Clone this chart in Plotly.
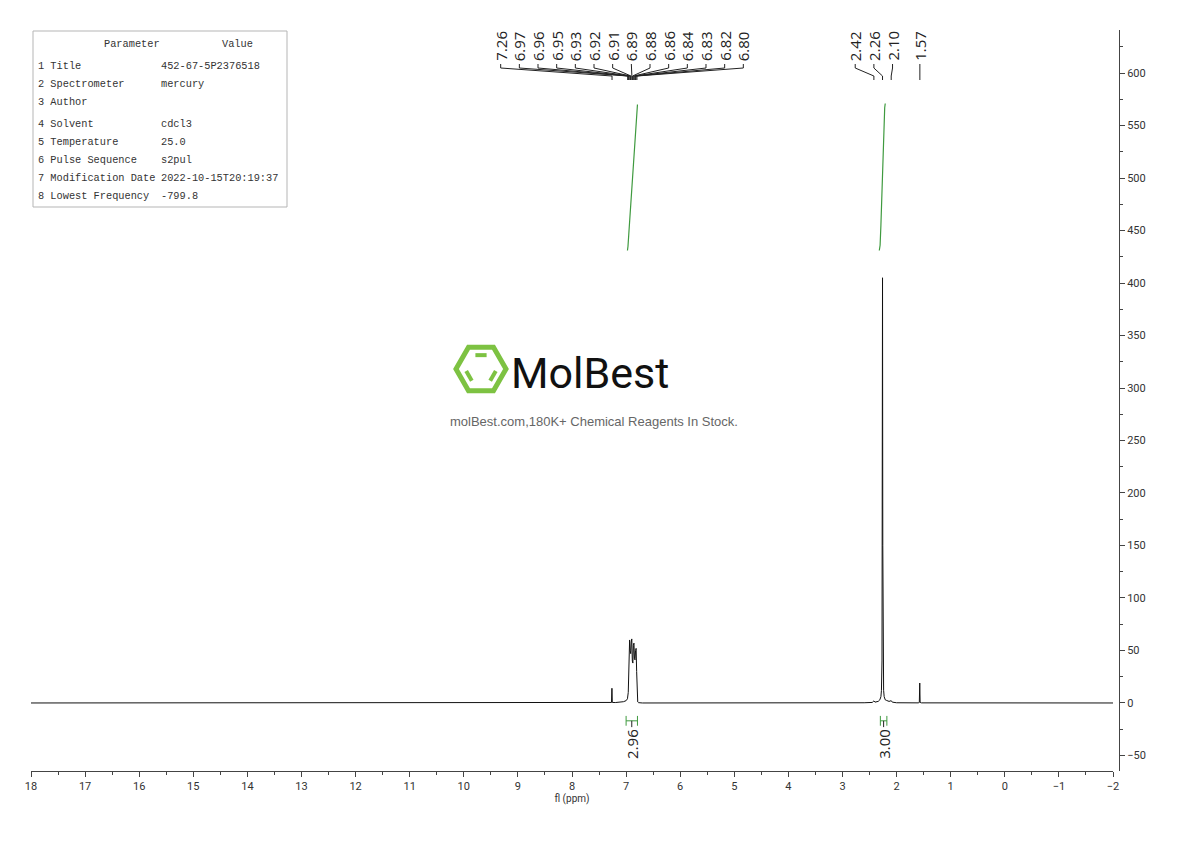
import math

import plotly.graph_objects as go

# Spectrum trace (ppm, intensity)
spec_ppm = [
    18.0, 7.40, 7.30, 7.27, 7.262, 7.255, 7.20, 7.10, 7.05, 7.00, 6.975, 6.96,
    6.945, 6.935, 6.925, 6.915, 6.905, 6.895, 6.885, 6.875, 6.865, 6.855,
    6.845, 6.835, 6.825, 6.815, 6.805, 6.795, 6.785, 6.77, 6.70,
    2.60, 2.45, 2.42, 2.40, 2.34, 2.31, 2.29, 2.28, 2.27, 2.265, 2.26, 2.255,
    2.25, 2.24, 2.23, 2.21, 2.19, 2.17, 2.14, 2.12, 2.10, 2.08, 2.00,
    1.60, 1.58, 1.572, 1.565, 1.54, -2.0,
]
spec_int = [
    0.0, 0.2, 0.3, 0.5, 14.0, 0.5, 0.4, 0.8, 1.2, 2.2, 4.0, 10.0,
    35.0, 60.0, 50.0, 47.0, 58.0, 61.0, 40.0, 38.0, 55.0, 57.0,
    42.0, 41.0, 50.0, 52.0, 30.0, 6.0, 1.0, 0.3, 0.0,
    0.2, 0.5, 2.0, 0.8, 1.5, 3.0, 6.0, 12.0, 40.0, 150.0, 405.0, 150.0,
    40.0, 12.0, 6.0, 3.0, 2.5, 2.0, 1.5, 1.8, 2.2, 0.8, 0.2,
    0.1, 0.5, 19.0, 0.5, 0.1, 0.0,
]

# Integral curves
int1_ppm = [6.975, 6.965, 6.95, 6.92, 6.89, 6.86, 6.83, 6.81, 6.80, 6.79]
int1_val = [431, 435, 447, 472, 497, 522, 546, 560, 566, 570]
int2_ppm = [2.32, 2.305, 2.29, 2.27, 2.25, 2.23, 2.22, 2.21]
int2_val = [431, 436, 455, 490, 528, 558, 567, 571]

# Integration regions (from, to, value)
int_from = [7.00, 2.30]
int_to = [6.79, 2.18]
int_labels = ["2.96", "3.00"]

# Peak picking labels
peak_ppm = [7.26, 6.97, 6.96, 6.95, 6.93, 6.92, 6.91, 6.89, 6.88, 6.86, 6.84,
            6.83, 6.82, 6.80, 2.42, 2.26, 2.10, 1.57]

# Parameter table
param_names = ["1 Title", "2 Spectrometer", "3 Author", "4 Solvent",
               "5 Temperature", "6 Pulse Sequence", "7 Modification Date",
               "8 Lowest Frequency"]
param_values = ["452-67-5P2376518", "mercury", "", "cdcl3", "25.0", "s2pul",
                "2022-10-15T20:19:37", "-799.8"]

GREEN = "#3f9a3f"
AXIS = "#444444"
TICKFONT = "Roboto, sans-serif"

# plot area in page pixels: left 31, right 1119, top 30, bottom 771
# (the page body adds an 8px offset to the figure)
L, R, T, B = 31, 1119, 30, 771
OFF = 8
FIG_W, FIG_H = 1180, 825


def px_x(px):
    return (px - L) / (R - L)


def px_y(py):
    return (B - py) / (B - T)


def label_positions(peaks, gap=0.345, join=0.5, shift=0.16):
    # spread the labels of close peaks evenly above them
    groups, cur = [], [peaks[0]]
    for p in peaks[1:]:
        if cur[-1] - p < join:
            cur.append(p)
        else:
            groups.append(cur)
            cur = [p]
    groups.append(cur)
    out = []
    for g in groups:
        mid = sum(g) / len(g) + (shift if len(g) > 1 else 0)
        n = len(g)
        out += [mid + ((n - 1) / 2 - i) * gap for i in range(n)]
    return out


fig = go.Figure()

fig.add_trace(go.Scatter(x=spec_ppm, y=spec_int, mode="lines",
                         line=dict(color="#111111", width=1), hoverinfo="skip"))

for xs, ys in [(int1_ppm, int1_val), (int2_ppm, int2_val)]:
    fig.add_trace(go.Scatter(x=xs, y=ys, mode="lines",
                             line=dict(color=GREEN, width=1.2), hoverinfo="skip"))

# integration brackets + labels
annotations = []
for a, b, lab in zip(int_from, int_to, int_labels):
    fig.add_trace(go.Scatter(
        x=[a, b], y=[-17, -17], mode="lines+markers",
        line=dict(color=GREEN, width=1),
        marker=dict(symbol="line-ns-open", size=7, color=GREEN,
                    line=dict(color=GREEN, width=1)),
        hoverinfo="skip"))
    mid = (a + b) / 2
    fig.add_trace(go.Scatter(x=[mid, mid], y=[-17, -23], mode="lines",
                             line=dict(color="#222222", width=1), hoverinfo="skip"))
    annotations.append(dict(x=mid, y=-23, xref="x", yref="y", text=lab,
                            textangle=-90, showarrow=False, yanchor="top",
                            xanchor="center",
                            font=dict(family="Open Sans", size=15, color="#222222")))

# peak labels and their connectors (y in paper units on overlay axis)
lab_x = label_positions(peak_ppm)
cx, cy = [], []
for p, lx in zip(peak_ppm, lab_x):
    cx += [lx, lx, p, p, None]
    cy += [px_y(64), px_y(68), px_y(76), px_y(80), None]
    annotations.append(dict(x=lx, y=px_y(63), xref="x", yref="paper",
                            text=f"{p:.2f}", textangle=-90, showarrow=False,
                            yanchor="bottom", xanchor="center",
                            font=dict(family="Open Sans", size=15, color="#222222")))
fig.add_trace(go.Scatter(x=cx, y=cy, yaxis="y2", mode="lines",
                         line=dict(color="#222222", width=1), hoverinfo="skip"))

# parameter table (text nudged up: the mono font sits low in its box)
shapes = [dict(type="rect", xref="paper", yref="paper",
               x0=px_x(33), x1=px_x(287), y0=px_y(207), y1=px_y(31),
               line=dict(color="#b5b5b5", width=1))]
tfont = dict(family="Liberation Mono", size=10.3, color="#333333")
NUDGE = 7
annotations.append(dict(x=px_x(102), y=px_y(43 - NUDGE), xref="paper", yref="paper",
                        text="Parameter", showarrow=False, font=tfont))
annotations.append(dict(x=px_x(220), y=px_y(43 - NUDGE), xref="paper", yref="paper",
                        text="Value", showarrow=False, font=tfont))
row_y = [65, 83, 101, 123, 141, 159, 177, 195]
for ry, name, val in zip(row_y, param_names, param_values):
    annotations.append(dict(x=px_x(36), y=px_y(ry - NUDGE), xref="paper", yref="paper",
                            text=name, showarrow=False, xanchor="left", font=tfont))
    if val:
        annotations.append(dict(x=px_x(159), y=px_y(ry - NUDGE), xref="paper",
                                yref="paper", text=val, showarrow=False,
                                xanchor="left", font=tfont))

# MolBest watermark
hx, hy, hr = 481, 369, 25
verts = [(hx + hr * math.cos(math.radians(a)), hy + hr * math.sin(math.radians(a)))
         for a in range(0, 360, 60)]
path = "M " + " L ".join(f"{px_x(x):.5f},{px_y(y):.5f}" for x, y in verts) + " Z"
shapes.append(dict(type="path", xref="paper", yref="paper", path=path,
                   line=dict(color="#7dc242", width=5)))
ir = hr * 0.64
for a0, a1 in [(240, 300), (120, 180), (0, 60)]:
    p0 = (hx + ir * math.cos(math.radians(a0)), hy + ir * math.sin(math.radians(a0)))
    p1 = (hx + ir * math.cos(math.radians(a1)), hy + ir * math.sin(math.radians(a1)))
    q0 = (p0[0] + (p1[0] - p0[0]) * 0.15, p0[1] + (p1[1] - p0[1]) * 0.15)
    q1 = (p0[0] + (p1[0] - p0[0]) * 0.85, p0[1] + (p1[1] - p0[1]) * 0.85)
    shapes.append(dict(type="line", xref="paper", yref="paper",
                       x0=px_x(q0[0]), y0=px_y(q0[1]), x1=px_x(q1[0]), y1=px_y(q1[1]),
                       line=dict(color="#7dc242", width=4)))
annotations.append(dict(x=px_x(509), y=px_y(373), xref="paper", yref="paper",
                        text="MolBest", showarrow=False, xanchor="left",
                        font=dict(family="Roboto", size=43, color="#111111")))
annotations.append(dict(x=px_x(594), y=px_y(421), xref="paper", yref="paper",
                        text="molBest.com,180K+ Chemical Reagents In Stock.",
                        showarrow=False,
                        font=dict(family="Liberation Sans", size=13, color="#666666")))

fig.update_layout(
    width=FIG_W, height=FIG_H,
    margin=dict(l=L - OFF, r=FIG_W - (R - OFF), t=T - OFF, b=FIG_H - (B - OFF), pad=0),
    paper_bgcolor="white", plot_bgcolor="white",
    showlegend=False,
    xaxis=dict(range=[18, -2], domain=[0, (1113 - L) / (R - L)],
               tick0=0, dtick=1, ticks="outside", ticklen=5, tickwidth=1,
               tickcolor=AXIS, showline=True, linecolor=AXIS, linewidth=1,
               showgrid=False, zeroline=False,
               minor=dict(dtick=0.5, ticks="outside", ticklen=3, tickcolor=AXIS),
               tickfont=dict(family=TICKFONT, size=11, color="#333333"),
               title=dict(text="fl (ppm)", standoff=2,
                          font=dict(family=TICKFONT, size=10, color="#333333"))),
    yaxis=dict(range=[-64.8, 641], side="right", anchor="free", position=1,
               tick0=0, dtick=50, ticks="outside", ticklen=5, tickcolor=AXIS,
               showline=True, linecolor=AXIS, linewidth=1,
               showgrid=False, zeroline=False,
               minor=dict(dtick=25, ticks="outside", ticklen=3, tickcolor=AXIS),
               tickfont=dict(family=TICKFONT, size=11, color="#333333")),
    yaxis2=dict(range=[0, 1], overlaying="y", visible=False),
    shapes=shapes,
    annotations=annotations,
)

fig.write_html("out.html")
